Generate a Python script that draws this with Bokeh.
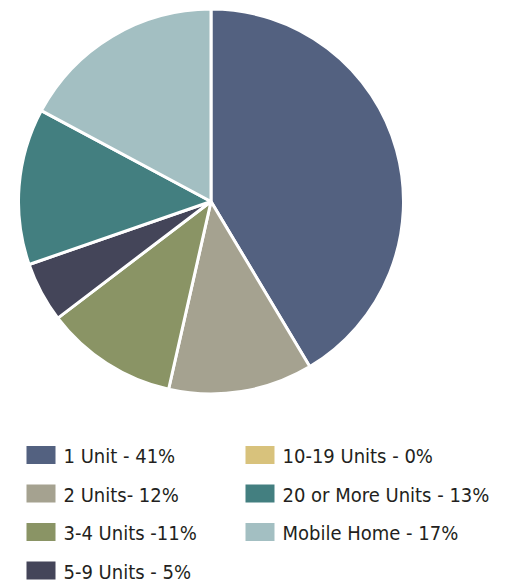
import math
from bokeh.plotting import figure
from bokeh.models import Range1d, ColumnDataSource
from bokeh.core.properties import value
from bokeh.embed import file_html
from bokeh.resources import INLINE

# Data
categories = ["1 Unit", "2 Units", "3-4 Units", "5-9 Units", "10-19 Units", "20 or More Units", "Mobile Home"]
shares = [41, 12, 11, 5, 0, 13, 17]
colors = ["#536180", "#a5a290", "#8a9465", "#444559", "#d8c27c", "#437f80", "#a3bfc2"]
legend_labels = ["1 Unit - 41%", "2 Units- 12%", "3-4 Units -11%", "5-9 Units - 5%",
                 "10-19 Units - 0%", "20 or More Units - 13%", "Mobile Home - 17%"]
legend_col = [0, 0, 0, 0, 1, 1, 1]
legend_row = [0, 1, 2, 3, 0, 1, 2]

W, H = 505, 583
p = figure(width=W, height=H, output_backend="svg", toolbar_location=None,
           x_range=Range1d(0, W), y_range=Range1d(0, H), min_border=0)
p.axis.visible = False
p.grid.visible = False
p.outline_line_color = None
p.background_fill_color = "white"

# pie geometry (screen px -> data)
cx, cy, r = 210.5, H - 201, 192.5
total = sum(shares)
starts, ends, cols = [], [], []
ang = math.pi / 2
for s, c in zip(shares, colors):
    if s == 0:
        continue
    a = s / total * 2 * math.pi
    starts.append(ang)
    ends.append(ang - a)
    cols.append(c)
    ang -= a
src = ColumnDataSource(dict(x=[cx] * len(cols), y=[cy] * len(cols), s=starts, e=ends, c=cols))
p.wedge(x="x", y="y", radius=r, start_angle="s", end_angle="e", direction="clock",
        fill_color="c", line_color="white", line_width=3, source=src)

# legend
col_x = [26, 245]
row_y0 = 454.5
row_dy = 38.5
lx, ly, tx = [], [], []
for ci, ri in zip(legend_col, legend_row):
    lx.append(col_x[ci] + 14.5)
    ly.append(H - (row_y0 + ri * row_dy))
    tx.append(col_x[ci] + 37)
lsrc = ColumnDataSource(dict(x=lx, y=ly, tx=tx, c=colors, t=legend_labels))
p.rect(x="x", y="y", width=29, height=18, fill_color="c", line_color=None, source=lsrc)
p.text(x="tx", y="y", text="t", source=lsrc, text_font=value("DejaVu Sans Condensed"),
       text_font_size="20px", text_color="#231f20", text_baseline="middle", y_offset=1)

open("out.html", "w").write(file_html(p, INLINE))
